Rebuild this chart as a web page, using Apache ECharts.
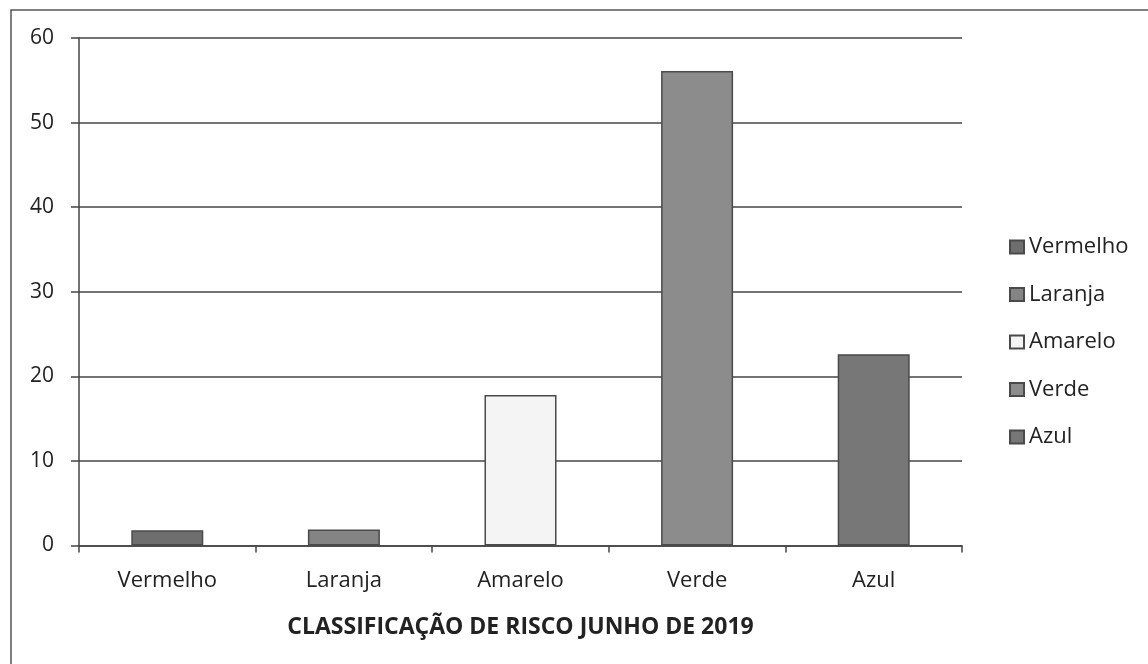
<!DOCTYPE html>
<html>
<head>
<meta charset="utf-8">
<script src="https://cdn.jsdelivr.net/npm/echarts@6/dist/echarts.min.js"></script>
<style>
html,body{margin:0;padding:0;background:#fff;}
#c{width:1148px;height:664px;}
</style>
</head>
<body>
<div id="c"></div>
<script>
var categories = ['Vermelho', 'Laranja', 'Amarelo', 'Verde', 'Azul'];
var values = [1.8, 1.9, 17.8, 56.1, 22.6];
var yTicks = [0, 10, 20, 30, 40, 50, 60];
var axisTitle = 'CLASSIFICAÇÃO DE RISCO JUNHO DE 2019';
var barColors = ['#6e6e6e', '#848484', '#f4f4f4', '#8c8c8c', '#777777'];

var FONT = '"Open Sans", sans-serif';

var chart = echarts.init(document.getElementById('c'));
var series = categories.map(function (name, i) {
  var d = categories.map(function (c, j) { return j === i ? values[i] : '-'; });
  return {
    name: name,
    type: 'bar',
    stack: 'all',
    barWidth: 72,
    data: d,
    itemStyle: { color: barColors[i], borderColor: '#4a4a4a', borderWidth: 1.5 }
  };
});

chart.setOption({
  animation: false,
  backgroundColor: '#fff',
  color: barColors,
  graphic: [{
    type: 'polyline',
    shape: { points: [[11, 700], [11, 10], [1160, 10]] },
    style: { stroke: '#555', lineWidth: 1.5, fill: null },
    silent: true
  }],
  grid: { left: 79, right: 186, top: 38, bottom: 118.5 },
  legend: {
    orient: 'vertical',
    left: 1004,
    top: 230,
    itemWidth: 14,
    itemHeight: 13,
    itemGap: 23.5,
    icon: 'rect',
    textStyle: { fontFamily: FONT, fontSize: 22, lineHeight: 24, color: '#222' },
    data: categories
  },
  xAxis: {
    type: 'category',
    data: categories,
    name: axisTitle,
    nameLocation: 'middle',
    nameGap: 70,
    nameTextStyle: { fontFamily: FONT, fontSize: 23, fontWeight: 'bold', color: '#222' },
    axisLine: { show: true, lineStyle: { color: '#444', width: 1.5 } },
    axisTick: { show: true, length: 7, lineStyle: { color: '#444', width: 1.5 } },
    axisLabel: { fontFamily: FONT, fontSize: 22, color: '#222', margin: 24 }
  },
  yAxis: {
    type: 'value',
    min: 0,
    max: 60,
    interval: 10,
    axisLine: { show: true, lineStyle: { color: '#444', width: 1.5 } },
    axisTick: { show: true, length: 8, lineStyle: { color: '#444', width: 1.5 } },
    axisLabel: {
      fontFamily: FONT, fontSize: 21, color: '#222', margin: 25,
      formatter: function (v) { return yTicks.indexOf(v) >= 0 ? String(v) : ''; }
    },
    splitLine: { show: true, lineStyle: { color: '#444', width: 1.5 } }
  },
  series: series
});
</script>
</body>
</html>
